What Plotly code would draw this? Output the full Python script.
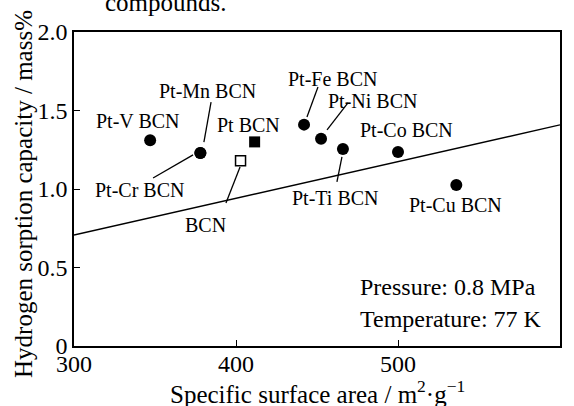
import plotly.graph_objects as go

# ---- data ----
names = ["Pt-V BCN", "Pt-Mn BCN", "Pt-Cr BCN", "Pt-Fe BCN", "Pt-Ni BCN",
         "Pt-Ti BCN", "Pt-Co BCN", "Pt-Cu BCN"]
area = [347, 378, 378, 442, 452.5, 466, 500, 536]
capacity = [1.31, 1.23, 1.23, 1.41, 1.32, 1.255, 1.235, 1.025]

pt_name = "Pt BCN"
pt_area = [411.5]
pt_capacity = [1.30]

bcn_name = "BCN"
bcn_area = [402.8]
bcn_capacity = [1.18]

trend_x = [300, 600]
trend_y = [0.707, 1.408]

x_ticks = [300, 400, 500, 600]
y_ticks = [0, 0.5, 1.0, 1.5, 2.0]
y_tick_text = ["0", "0.5", "1.0", "1.5", "2.0"]

# label positions (data coords) and leader lines
label_text = ["Pt-V BCN", "Pt-Mn BCN", "Pt BCN", "Pt-Cr BCN", "BCN",
              "Pt-Fe BCN", "Pt-Ni BCN", "Pt-Co BCN", "Pt-Ti BCN", "Pt-Cu BCN"]
label_x = [339.2, 382.7, 408.0, 340.7, 380.9, 459.3, 484.0, 505.0, 461.7, 535.2]
label_y = [1.433, 1.624, 1.408, 0.994, 0.771, 1.70, 1.56, 1.376, 0.943, 0.898]

leader_x0 = [384.6, 348.8, 402.5, 450.6, 469.1, 465.4]
leader_y0 = [1.554, 1.070, 1.140, 1.650, 1.548, 1.204]
leader_x1 = [380.2, 373.5, 393.8, 443.8, 456.2, 462.3]
leader_y1 = [1.299, 1.217, 0.911, 1.459, 1.376, 1.045]

conditions = ["Pressure: 0.8 MPa", "Temperature: 77 K"]
conditions_y = [0.379, 0.172]

FONT = "Liberation Serif"

fig = go.Figure()
fig.add_trace(go.Scatter(x=trend_x, y=trend_y, mode="lines",
                         line=dict(color="black", width=1.3), hoverinfo="skip"))
fig.add_trace(go.Scatter(x=area, y=capacity, mode="markers", text=names,
                         marker=dict(symbol="circle", size=12, color="black")))
fig.add_trace(go.Scatter(x=pt_area, y=pt_capacity, mode="markers", text=[pt_name],
                         marker=dict(symbol="square", size=11, color="black")))
fig.add_trace(go.Scatter(x=bcn_area, y=bcn_capacity, mode="markers", text=[bcn_name],
                         marker=dict(symbol="square", size=10, color="white",
                                     line=dict(color="black", width=1.5))))

for x0, y0, x1, y1 in zip(leader_x0, leader_y0, leader_x1, leader_y1):
    fig.add_shape(type="line", x0=x0, y0=y0, x1=x1, y1=y1, xref="x", yref="y",
                  line=dict(color="black", width=1.3))

annotations = []
for t, x, y in zip(label_text, label_x, label_y):
    annotations.append(dict(x=x, y=y, xref="x", yref="y", text=t, showarrow=False,
                            xanchor="center", yanchor="middle",
                            font=dict(family=FONT, size=20, color="black")))
for t, y in zip(conditions, conditions_y):
    annotations.append(dict(x=0.584, y=y, xref="paper", yref="y", text=t, showarrow=False,
                            xanchor="left", yanchor="middle",
                            font=dict(family=FONT, size=24, color="black")))
annotations.append(dict(x=-0.105, y=0.484, xref="paper", yref="paper",
                        text="Hydrogen sorption capacity / mass%", textangle=-90,
                        showarrow=False, xanchor="center", yanchor="middle",
                        font=dict(family=FONT, size=25, color="black")))
annotations.append(dict(x=0.5, y=-0.146, xref="paper", yref="paper",
                        text="Specific surface area / m<sup>2</sup>·g<sup>−1</sup>",
                        showarrow=False, xanchor="center", yanchor="middle",
                        font=dict(family=FONT, size=25, color="black")))
annotations.append(dict(x=0.189, y=1.094, xref="paper", yref="paper",
                        text="compounds.", showarrow=False,
                        xanchor="center", yanchor="middle",
                        font=dict(family=FONT, size=25, color="black")))

axis_common = dict(showgrid=False, zeroline=False, showline=True, linecolor="black",
                   linewidth=1.5, mirror=True, ticks="inside", ticklen=6,
                   tickwidth=1.3, tickcolor="black",
                   tickfont=dict(family=FONT, size=24, color="black"))

fig.update_layout(
    width=574, height=406,
    margin=dict(l=74, r=14, t=32, b=60),
    plot_bgcolor="white", paper_bgcolor="white",
    showlegend=False,
    annotations=annotations,
    xaxis=dict(range=[300, 600], tickvals=x_ticks, ticklabelstandoff=-5, **axis_common),
    yaxis=dict(range=[0, 2.0], tickvals=y_ticks, ticktext=y_tick_text, **axis_common),
)

fig.write_html("out.html")
